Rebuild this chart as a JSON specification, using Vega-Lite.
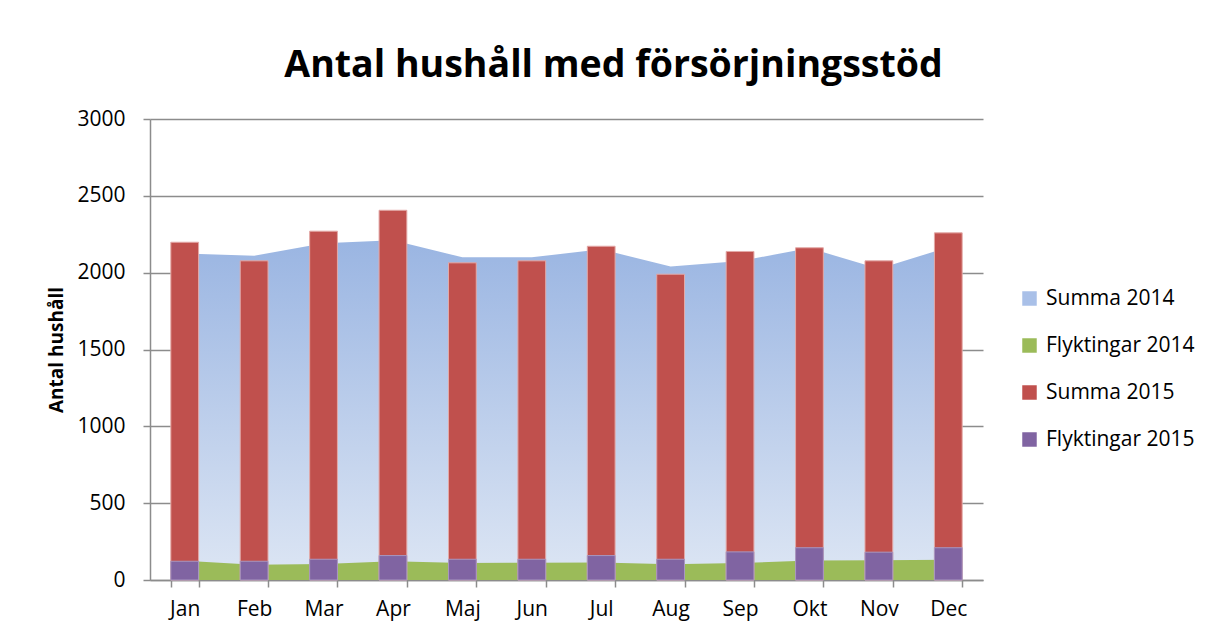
{
  "$schema": "https://vega.github.io/schema/vega-lite/v6.json",
  "width": 833,
  "height": 461,
  "autosize": "none",
  "padding": {"left": 150, "top": 119, "right": 226, "bottom": 52},
  "background": "white",
  "config": {"view": {"stroke": null}, "font": "Open Sans"},
  "title": {"text": "Antal hushåll med försörjningsstöd", "fontSize": 37.5, "fontWeight": "bold", "font": "Open Sans", "anchor": "middle", "dx": 47, "offset": 24, "color": "#000"},
  "data": {"values": [
    {"month": "Jan", "s14": 2125, "f14": 125, "s15": 2198, "f15": 122},
    {"month": "Feb", "s14": 2110, "f14": 100, "s15": 2077, "f15": 122},
    {"month": "Mar", "s14": 2192, "f14": 104, "s15": 2270, "f15": 135},
    {"month": "Apr", "s14": 2211, "f14": 122, "s15": 2406, "f15": 159},
    {"month": "Maj", "s14": 2100, "f14": 110, "s15": 2064, "f15": 135},
    {"month": "Jun", "s14": 2100, "f14": 113, "s15": 2077, "f15": 135},
    {"month": "Jul", "s14": 2152, "f14": 114, "s15": 2172, "f15": 159},
    {"month": "Aug", "s14": 2040, "f14": 102, "s15": 1990, "f15": 135},
    {"month": "Sep", "s14": 2076, "f14": 110, "s15": 2138, "f15": 183},
    {"month": "Okt", "s14": 2160, "f14": 127, "s15": 2162, "f15": 210},
    {"month": "Nov", "s14": 2025, "f14": 128, "s15": 2077, "f15": 181},
    {"month": "Dec", "s14": 2166, "f14": 132, "s15": 2259, "f15": 210}
  ]},
  "encoding": {
    "x": {"field": "month", "type": "nominal", "sort": null,
      "scale": {"paddingInner": 0.6, "paddingOuter": 0.3},
      "axis": {"title": null, "labelAngle": 0, "labelFontSize": 21, "labelPadding": 11, "tickBand": "extent", "tickSize": 7, "tickColor": "#8C8C8C", "tickWidth": 1.5, "domainColor": "#8C8C8C", "domainWidth": 1.5, "labelColor": "#000"}}
  },
  "layer": [
    {
      "mark": {"type": "area", "fill": {"gradient": "linear", "x1": 0, "y1": 0, "x2": 0, "y2": 1, "stops": [{"offset": 0, "color": "#9AB5E2"}, {"offset": 1, "color": "#DDE6F4"}]}},
      "encoding": {
        "y": {"field": "s14", "type": "quantitative", "title": "Antal hushåll",
          "scale": {"domain": [0, 3000]},
          "axis": {"values": [0, 500, 1000, 1500, 2000, 2500, 3000], "format": "d", "grid": true, "gridColor": "#8C8C8C", "gridWidth": 1.5, "domainColor": "#8C8C8C", "domainWidth": 1.5, "tickColor": "#8C8C8C", "tickSize": 7, "tickWidth": 1.5, "labelFontSize": 21, "labelPadding": 18, "labelColor": "#000", "titleFontSize": 19, "titleFontWeight": "bold", "titlePadding": 10, "titleColor": "#000"}}
      }
    },
    {
      "mark": {"type": "area"},
      "encoding": {
        "y": {"field": "f14", "type": "quantitative", "title": "Antal hushåll"},
        "fill": {"datum": "Flyktingar 2014",
          "scale": {"domain": ["Summa 2014", "Flyktingar 2014", "Summa 2015", "Flyktingar 2015"], "range": ["#A9C0E8", "#9BBB59", "#C0504D", "#8064A2"]},
          "legend": {"title": null, "orient": "none", "legendX": 869, "legendY": 169, "labelFontSize": 21, "symbolType": "square", "symbolSize": 210, "labelOffset": 6, "rowPadding": 25, "symbolStrokeWidth": 0, "labelColor": "#000", "labelLimit": 300}}
      }
    },
    {
      "mark": {"type": "bar", "stroke": "#E3A9A7", "strokeWidth": 1},
      "encoding": {
        "y": {"field": "s15", "type": "quantitative", "title": "Antal hushåll"},
        "fill": {"datum": "Summa 2015"}
      }
    },
    {
      "mark": {"type": "bar", "stroke": "#A897C0", "strokeWidth": 1},
      "encoding": {
        "y": {"field": "f15", "type": "quantitative", "title": "Antal hushåll"},
        "fill": {"datum": "Flyktingar 2015"}
      }
    }
  ]
}
